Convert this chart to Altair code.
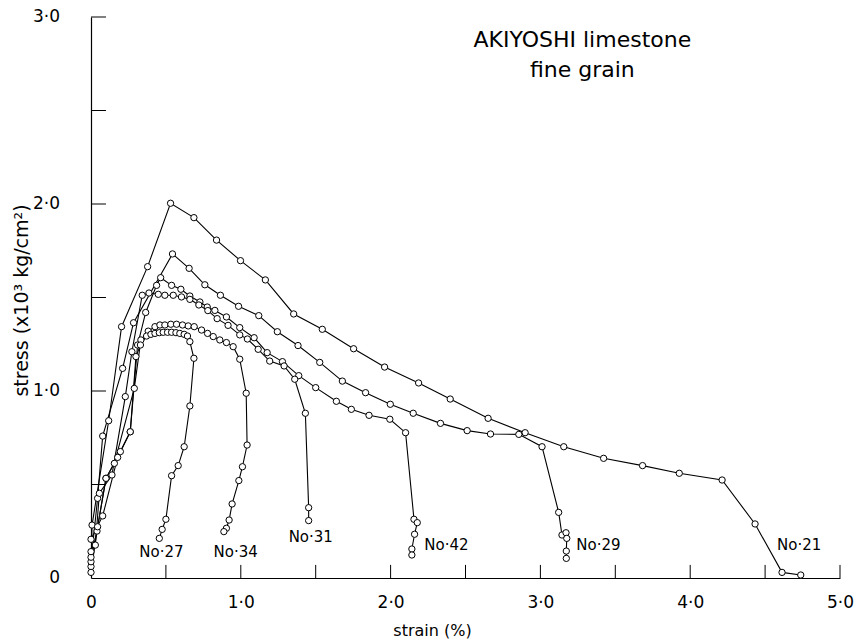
import altair as alt
import pandas as pd

# ---- data (strain %, stress x10^3 kg/cm^2) ----
no21_strain = [0, 0.007, 0.118, 0.204, 0.378, 0.531, 0.687, 0.838, 0.998, 1.164, 1.353, 1.544, 1.753,
               1.96, 2.187, 2.398, 2.651, 2.898, 3.156, 3.422, 3.682, 3.927, 4.213, 4.433, 4.613, 4.738]
no21_stress = [0.061, 0.283, 0.841, 1.344, 1.665, 2.004, 1.927, 1.807, 1.697, 1.594, 1.412, 1.330, 1.226,
               1.128, 1.043, 0.957, 0.854, 0.777, 0.702, 0.640, 0.601, 0.560, 0.524, 0.289, 0.030, 0.016]

no29_strain = [0, 0.044, 0.078, 0.211, 0.284, 0.544, 0.655, 0.76, 0.864, 0.985, 1.12, 1.244, 1.382, 1.527,
               1.678, 1.833, 1.998, 2.151, 2.333, 2.511, 2.667, 2.856, 3.011, 3.122, 3.144, 3.171, 3.176,
               3.173, 3.173]
no29_stress = [0.087, 0.426, 0.759, 1.121, 1.365, 1.733, 1.656, 1.568, 1.512, 1.453, 1.403, 1.317, 1.243,
               1.153, 1.053, 0.991, 0.929, 0.881, 0.827, 0.788, 0.770, 0.768, 0.702, 0.351, 0.230, 0.242,
               0.212, 0.144, 0.105]

no42_strain = [0, 0.04, 0.1, 0.196, 0.262, 0.311, 0.365, 0.438, 0.465, 0.538, 0.60, 0.66, 0.727, 0.776,
               0.827, 0.904, 0.993, 1.089, 1.176, 1.278, 1.387, 1.5, 1.638, 1.738, 1.856, 1.995, 2.1,
               2.156, 2.178, 2.16, 2.142, 2.142]
no42_stress = [0.111, 0.251, 0.533, 0.676, 0.782, 1.246, 1.42, 1.565, 1.606, 1.565, 1.544, 1.508, 1.476,
               1.449, 1.431, 1.396, 1.339, 1.285, 1.205, 1.157, 1.082, 1.018, 0.945, 0.902, 0.870, 0.849,
               0.777, 0.314, 0.296, 0.234, 0.155, 0.123]

no31_strain = [0, 0.029, 0.056, 0.14, 0.229, 0.273, 0.342, 0.387, 0.449, 0.493, 0.549, 0.604, 0.66, 0.72,
               0.78, 0.842, 0.915, 0.993, 1.044, 1.116, 1.193, 1.289, 1.36, 1.431, 1.453, 1.453]
no31_stress = [0.141, 0.176, 0.453, 0.551, 0.97, 1.21, 1.512, 1.524, 1.517, 1.512, 1.512, 1.503, 1.49, 1.46,
               1.43, 1.387, 1.351, 1.30, 1.278, 1.223, 1.16, 1.134, 1.063, 0.881, 0.376, 0.307]

no34_strain = [0, 0.044, 0.1, 0.156, 0.289, 0.333, 0.382, 0.427, 0.46, 0.493, 0.533, 0.571, 0.611, 0.649,
               0.689, 0.738, 0.778, 0.816, 0.86, 0.904, 0.949, 0.993, 1.036, 1.042, 1.011, 0.987, 0.942,
               0.922, 0.904, 0.887]
no34_stress = [0.03, 0.274, 0.533, 0.613, 1.014, 1.273, 1.32, 1.344, 1.353, 1.353, 1.357, 1.357, 1.353,
               1.348, 1.344, 1.326, 1.308, 1.291, 1.273, 1.259, 1.237, 1.17, 0.988, 0.711, 0.595, 0.521,
               0.396, 0.31, 0.266, 0.248]

no27_strain = [0, 0.078, 0.178, 0.262, 0.3, 0.33, 0.371, 0.4, 0.427, 0.456, 0.482, 0.511, 0.538, 0.567,
               0.593, 0.622, 0.644, 0.66, 0.687, 0.66, 0.622, 0.582, 0.538, 0.5, 0.475, 0.456]
no27_stress = [0.207, 0.332, 0.645, 0.782, 1.184, 1.246, 1.294, 1.303, 1.308, 1.312, 1.314, 1.314, 1.314,
               1.312, 1.308, 1.303, 1.294, 1.264, 1.175, 0.92, 0.702, 0.601, 0.547, 0.314, 0.26, 0.212]

label_names = ["No·27", "No·34", "No·31", "No·42", "No·29", "No·21"]
label_strain = [0.47, 0.966, 1.467, 2.373, 3.387, 4.727]
label_stress = [0.139, 0.139, 0.219, 0.176, 0.176, 0.176]

x_label_values = [0, 1, 2, 3, 4, 5]
y_label_values = [0, 1, 2, 3]
y_label_texts = ["0", "1·0", "2·0", "3·0"]
x_tick_values = [0.5, 1.0, 1.5, 2.0, 2.5, 3.0, 3.5, 4.0, 4.5, 5.0]
y_tick_values = [0.5, 1.0, 1.5, 2.0, 2.5, 3.0]

title_lines = ["AKIYOSHI  limestone", "fine  grain"]

# ---- build table ----
series = [("No.21", no21_strain, no21_stress), ("No.29", no29_strain, no29_stress),
          ("No.42", no42_strain, no42_stress), ("No.31", no31_strain, no31_stress),
          ("No.34", no34_strain, no34_stress), ("No.27", no27_strain, no27_stress)]
rows = []
for name, xs, ys in series:
    for i, (xv, yv) in enumerate(zip(xs, ys)):
        rows.append({"spec": name, "strain": xv, "stress": yv, "order": i})
df = pd.DataFrame(rows)

FONT = "DejaVu Sans"
lab_expr = "datum.value == 0 ? '0' : replace(format(datum.value, '.1f'), '.', '·')"

xscale = alt.Scale(domain=[0, 5], nice=False, zero=False)
yscale = alt.Scale(domain=[0, 3], nice=False, zero=False)

xaxis = alt.Axis(values=x_label_values, labelExpr=lab_expr, ticks=False, grid=False,
                 domainColor="black", domainWidth=1.2, labelFontSize=17, labelPadding=16,
                 labelColor="black", labelFont=FONT, labelFlush=False, labelAlign="center",
                 title="strain (%)", titleFont=FONT, titleFontSize=16, titleFontWeight="normal",
                 titleX=341, titleY=52, titleBaseline="middle", titleColor="black")
yaxis = alt.Axis(values=y_label_values, labels=False, ticks=False, grid=False,
                 domainColor="black", domainWidth=1.2,
                 title="stress (x10³ kg/cm²)", titleFont=FONT, titleFontSize=19,
                 titleFontWeight="normal", titleX=-70, titleY=283, titleBaseline="middle",
                 titleColor="black")

base = alt.Chart(df)
lines = base.mark_line(color="black", strokeWidth=1.1).encode(
    x=alt.X("strain:Q", scale=xscale, axis=xaxis),
    y=alt.Y("stress:Q", scale=yscale, axis=yaxis),
    detail="spec:N",
    order="order:Q",
)
points = base.mark_point(shape="circle", fill="white", fillOpacity=1, stroke="black",
                         strokeWidth=1, size=40, opacity=1).encode(
    x=alt.X("strain:Q", scale=xscale),
    y=alt.Y("stress:Q", scale=yscale),
)

xt = alt.Chart(pd.DataFrame({"v": x_tick_values})).mark_rule(color="black", strokeWidth=1).encode(
    x=alt.X("v:Q", scale=xscale), y=alt.datum(0), y2=alt.datum(0.07))
yt = alt.Chart(pd.DataFrame({"v": y_tick_values})).mark_rule(color="black", strokeWidth=1).encode(
    y=alt.Y("v:Q", scale=yscale), x=alt.datum(0), x2=alt.datum(0.1))

ylabels = alt.Chart(pd.DataFrame({"v": y_label_values, "t": y_label_texts})).mark_text(
    font=FONT, fontSize=17, color="black", align="right", baseline="middle", dx=-31).encode(
    y=alt.Y("v:Q", scale=yscale), x=alt.datum(0), text="t:N")

labels = alt.Chart(pd.DataFrame({"name": label_names, "strain": label_strain,
                                 "stress": label_stress})).mark_text(
    font=FONT, fontSize=15, color="black", align="center", baseline="middle").encode(
    x=alt.X("strain:Q", scale=xscale), y=alt.Y("stress:Q", scale=yscale), text="name:N")

title_df = pd.DataFrame({"t": title_lines, "strain": [3.28, 3.28], "stress": [2.877, 2.717]})
title = alt.Chart(title_df).mark_text(font=FONT, fontSize=22, color="black", align="center",
                                      baseline="middle").encode(
    x=alt.X("strain:Q", scale=xscale), y=alt.Y("stress:Q", scale=yscale), text="t:N")

chart = alt.layer(lines, points, xt, yt, ylabels, labels, title).properties(
    width=749, height=561,
    autosize=alt.AutoSizeParams(type="none"),
    padding={"left": 91, "top": 17, "right": 18, "bottom": 63},
    background="white",
).configure_view(stroke=None)

chart.save("out.html", embed_options={"renderer": "svg", "actions": False})
